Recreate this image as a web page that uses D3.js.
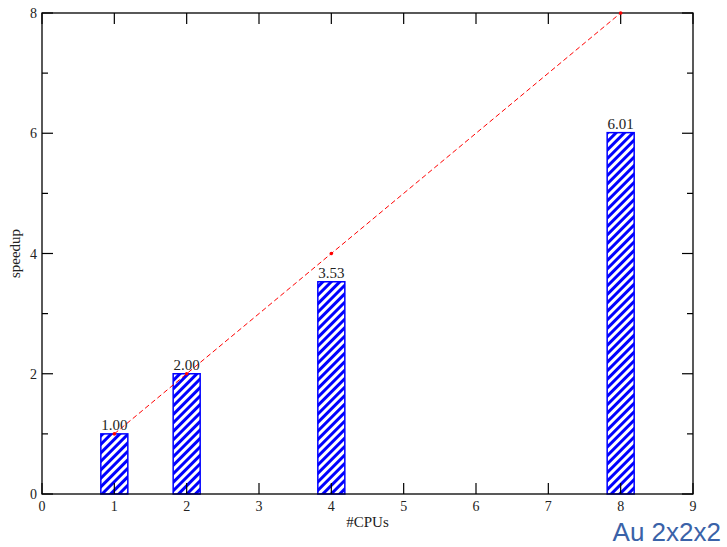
<!DOCTYPE html>
<html><head><meta charset="utf-8">
<script src="https://cdn.jsdelivr.net/npm/d3@7"></script>
<style>body{margin:0;background:#fff}svg{display:block}</style>
</head><body>
<script>
const cpus = [1, 2, 4, 8];
const speedup = [1.00, 2.00, 3.53, 6.01];
const speedupLabels = ["1.00", "2.00", "3.53", "6.01"];
const ideal = [1, 2, 4, 8];
const xTicks = [0,1,2,3,4,5,6,7,8,9];
const yMajor = [0,2,4,6,8];
const yMinor = [1,3,5,7];

const W = 727, H = 547;
const svg = d3.select("body").append("svg").attr("width", W).attr("height", H);
const x = d3.scaleLinear().domain([0, 9]).range([42, 693]);
const y = d3.scaleLinear().domain([0, 8]).range([494, 13]);
const serif = "'Liberation Serif','DejaVu Serif',serif";

const defs = svg.append("defs");
const pat = defs.append("pattern").attr("id","hatch").attr("patternUnits","userSpaceOnUse")
  .attr("width",6).attr("height",6).attr("patternTransform","rotate(45)");
pat.append("rect").attr("width",6).attr("height",6).attr("fill","#fff");
pat.append("rect").attr("width",3).attr("height",6).attr("fill","#0000ff");

// bars
const bw = 27;
svg.append("g").selectAll("rect").data(cpus).join("rect")
  .attr("x", (d)=>x(d)-bw/2).attr("y",(d,i)=>y(speedup[i]))
  .attr("width", bw).attr("height",(d,i)=>y(0)-y(speedup[i]))
  .attr("fill","url(#hatch)").attr("stroke","#0000ff").attr("stroke-width",1.5);

// frame
svg.append("rect").attr("x",x(0)).attr("y",y(8)).attr("width",x(9)-x(0)).attr("height",y(0)-y(8))
  .attr("fill","none").attr("stroke","#000").attr("stroke-width",1.3);

// axes with inward ticks
const gAx = svg.append("g").attr("stroke","#000").attr("stroke-width",1.2);
xTicks.forEach(t=>{
  gAx.append("line").attr("x1",x(t)).attr("x2",x(t)).attr("y1",y(0)).attr("y2",y(0)-11);
  gAx.append("line").attr("x1",x(t)).attr("x2",x(t)).attr("y1",y(8)).attr("y2",y(8)+11);
});
yMajor.forEach(t=>{
  gAx.append("line").attr("x1",x(0)).attr("x2",x(0)+11).attr("y1",y(t)).attr("y2",y(t));
  gAx.append("line").attr("x1",x(9)).attr("x2",x(9)-11).attr("y1",y(t)).attr("y2",y(t));
});
yMinor.forEach(t=>{
  gAx.append("line").attr("x1",x(0)).attr("x2",x(0)+6).attr("y1",y(t)).attr("y2",y(t));
  gAx.append("line").attr("x1",x(9)).attr("x2",x(9)-6).attr("y1",y(t)).attr("y2",y(t));
});

// tick labels
svg.append("g").selectAll("text").data(xTicks).join("text")
  .attr("x",d=>x(d)).attr("y",y(0)+17).attr("text-anchor","middle")
  .attr("font-family",serif).attr("font-size",14).attr("fill","#222").text(d=>d);
svg.append("g").selectAll("text").data(yMajor).join("text")
  .attr("x",x(0)-5).attr("y",d=>y(d)+5).attr("text-anchor","end")
  .attr("font-family",serif).attr("font-size",14).attr("fill","#222").text(d=>d);

// axis titles
svg.append("text").attr("x",x(4.5)).attr("y",527).attr("text-anchor","middle")
  .attr("font-family",serif).attr("font-size",15).attr("fill","#222").text("#CPUs");
svg.append("text").attr("transform",`translate(20,${y(4)}) rotate(-90)`).attr("text-anchor","middle")
  .attr("font-family",serif).attr("font-size",15).attr("fill","#222").text("speedup");

// ideal line
const line = d3.line().x(d=>x(d)).y(d=>y(d));
svg.append("path").datum(ideal).attr("d",line).attr("fill","none")
  .attr("stroke","#ff0000").attr("stroke-width",1).attr("stroke-dasharray","5,3");
svg.append("g").selectAll("circle").data(ideal).join("circle")
  .attr("cx",d=>x(d)).attr("cy",d=>y(d)).attr("r",1.8).attr("fill","#ff0000");

// bar value labels
svg.append("g").selectAll("text").data(cpus).join("text")
  .attr("x",d=>x(d)).attr("y",(d,i)=>y(speedup[i])-4).attr("text-anchor","middle")
  .attr("font-family",serif).attr("font-size",15).attr("fill","#222").text((d,i)=>speedupLabels[i]);

// caption
svg.append("text").attr("x",721).attr("y",541).attr("text-anchor","end")
  .attr("font-family","'Liberation Sans','DejaVu Sans',sans-serif").attr("font-size",26)
  .attr("fill","#3a62a8").text("Au 2x2x2");
</script>
</body></html>
